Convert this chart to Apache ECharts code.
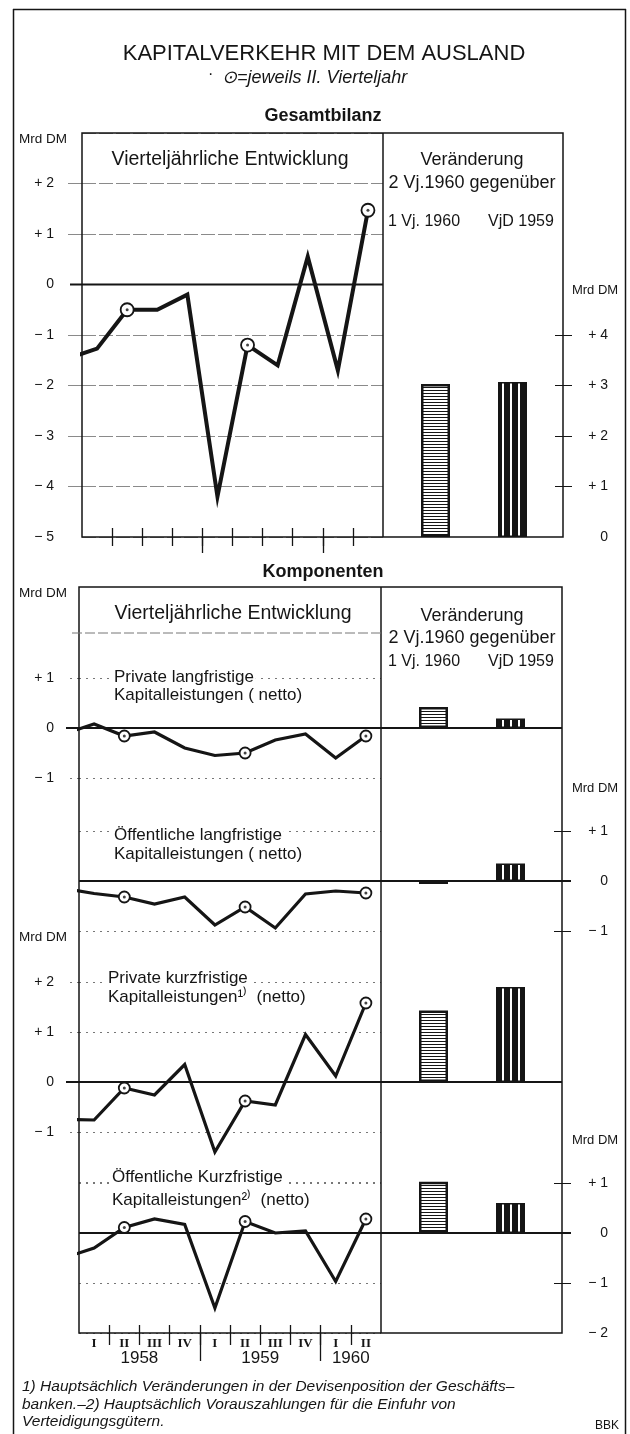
<!DOCTYPE html>
<html>
<head>
<meta charset="utf-8">
<script src="https://cdn.jsdelivr.net/npm/echarts@6/dist/echarts.min.js"></script>
<style>
html, body { margin: 0; background: #fff; }
#main { width: 630px; height: 1434px; }
</style>
</head>
<body>
<div id="main"></div>
<script>
// Quartale; 1957 IV speist nur den abgeschnittenen Anfang jeder Linie
var quarters = ['1957 IV', '1958 I', '1958 II', '1958 III', '1958 IV', '1959 I', '1959 II', '1959 III', '1959 IV', '1960 I', '1960 II'];
var quarterLabels = ['I', 'II', 'III', 'IV', 'I', 'II', 'III', 'IV', 'I', 'II'];
var years = ['1958', '1959', '1960'];
var yearQuarters = [4, 4, 2];
var barCategories = ['1 Vj. 1960', 'VjD 1959'];

// Vierteljährliche Entwicklung, Mrd DM
var gesamt     = [-1.47, -1.27, -0.5, -0.5, -0.2, -4.2, -1.2, -1.6, 0.55, -1.7, 1.47];
var privatLang = [-0.12, 0.08, -0.16, -0.08, -0.4, -0.55, -0.5, -0.24, -0.12, -0.6, -0.16];
var oeffLang   = [-0.15, -0.25, -0.32, -0.46, -0.32, -0.88, -0.52, -0.94, -0.26, -0.2, -0.24];
var privatKurz = [-0.75, -0.76, -0.12, -0.26, 0.35, -1.4, -0.38, -0.46, 0.95, 0.12, 1.58];
var oeffKurz   = [-0.5, -0.3, 0.11, 0.28, 0.17, -1.5, 0.23, 0, 0.04, -0.97, 0.28];

// Veränderung 2. Vj. 1960 gegenüber 1. Vj. 1960 / VjD 1959
var gesamtBars     = [3.03, 3.07];
var privatLangBars = [0.42, 0.19];
var oeffLangBars   = [-0.06, 0.35];
var privatKurzBars = [1.43, 1.9];
var oeffKurzBars   = [1.29, 0.6];

// Achsenbeschriftungen
var gesamtLeftLabels  = [-5, -4, -3, -2, -1, 0, 1, 2];
var gesamtRightLabels = [0, 1, 2, 3, 4];
var plLeftLabels  = [-1, 0, 1];
var olRightLabels = [-1, 0, 1];
var pkLeftLabels  = [-1, 0, 1, 2];
var okRightLabels = [-2, -1, 0, 1];

var FONT = '"Liberation Sans", Arial, sans-serif';
var INK = '#151515';
var gridTop = {color: '#8a8a8a', width: 1, type: [14, 3]};
var gridComp = {color: '#777', width: 1, type: [2, 5]};

// Muster für die Säulen
function patternCanvas(w, h, draw) {
    var c = document.createElement('canvas');
    c.width = w; c.height = h;
    draw(c.getContext('2d'), w, h);
    return c;
}
var hatchH = patternCanvas(4, 3, function (ctx, w, h) {
    ctx.fillStyle = '#fff'; ctx.fillRect(0, 0, w, h);
    ctx.fillStyle = INK; ctx.fillRect(0, 0, w, 1);
});
var stripeV = patternCanvas(8, 4, function (ctx, w, h) {
    ctx.fillStyle = INK; ctx.fillRect(0, 0, w, h);
    ctx.fillStyle = '#fff'; ctx.fillRect(6, 0, 2, h);
});
var barStyles = [
    {color: {image: hatchH, repeat: 'repeat'}, borderColor: INK, borderWidth: 2.5},
    {color: {image: stripeV, repeat: 'repeat'}, borderColor: INK, borderWidth: 1.5}
];

function signed(v) {
    if (v > 0) return '+ ' + v;
    if (v < 0) return '\u2212 ' + (-v);
    return '0';
}
function isSecondQuarter(q) { return q.split(' ')[1] === 'II'; }
function without0(arr) { return arr.filter(function (v) { return v !== 0; }); }

// Panels: Lage und Maßstab (px je Mrd DM)
var panels = [
    {values: gesamt, bars: gesamtBars, top: 133, unit: 50.5, min: -5, max: 3, barMin: 0,
     left: 82, mid: 383, right: 563, barLeft: 397, style: gridTop, lineWidth: 4, ring: 13,
     leftLabels: gesamtLeftLabels, leftTicks: without0(gesamtLeftLabels).filter(function (v) { return v > -5; }),
     rightLabels: gesamtRightLabels, rightTicks: without0(gesamtRightLabels), axis: 'top'},
    {values: privatLang, bars: privatLangBars, top: 678, unit: 50, min: -1, max: 1,
     left: 79, mid: 381, right: 562, barLeft: 395, style: gridComp, lineWidth: 3.2, ring: 11,
     leftLabels: plLeftLabels, leftTicks: without0(plLeftLabels)},
    {values: oeffLang, bars: oeffLangBars, top: 831, unit: 50, min: -1, max: 1,
     left: 79, mid: 381, right: 562, barLeft: 395, style: gridComp, lineWidth: 3.2, ring: 11,
     rightLabels: olRightLabels, rightTicks: without0(olRightLabels)},
    {values: privatKurz, bars: privatKurzBars, top: 982, unit: 50, min: -2, max: 2,
     left: 79, mid: 381, right: 562, barLeft: 395, style: gridComp, lineWidth: 3.2, ring: 11,
     leftLabels: pkLeftLabels, leftTicks: without0(pkLeftLabels)},
    {values: oeffKurz, bars: oeffKurzBars, top: 1183, unit: 50, min: -2, max: 1,
     left: 79, mid: 381, right: 562, barLeft: 395, style: gridComp, lineWidth: 3.2, ring: 11,
     rightLabels: okRightLabels, rightTicks: without0(okRightLabels).filter(function (v) { return v > -2; }), axis: 'bottom'}
];
var BAR_W = 154;

var boundaries = quarterLabels.slice(1).map(function (q, k) { return k + 1; });
var yearBounds = [], yearCenters = [], acc = 0;
yearQuarters.forEach(function (n, k) {
    yearCenters.push(acc + n / 2);
    acc += n;
    if (k < yearQuarters.length - 1) yearBounds.push(acc);
});

var grids = [], xAxes = [], yAxes = [], series = [], elements = [];

function tickAxis(gi, inside, len, values, label) {
    return {gridIndex: gi, type: 'value', min: 0, max: 10, interval: 1, position: 'bottom',
        axisLine: {show: false, onZero: false}, splitLine: {show: false},
        axisTick: {show: true, inside: inside, length: len, customValues: values,
            lineStyle: {color: INK, width: 1.3}},
        axisLabel: label || {show: false}};
}

panels.forEach(function (p) {
    var h = (p.max - p.min) * p.unit;
    var lg = grids.length;
    grids.push({left: p.left, top: p.top, width: p.mid - p.left, height: h});
    var bg = grids.length;
    grids.push({left: p.barLeft, top: p.top, width: BAR_W, height: h});

    // Liniengitter
    var xi = xAxes.length;
    xAxes.push({gridIndex: lg, type: 'value', min: 0, max: 10, interval: 1, show: false,
        axisLine: {onZero: false}});
    if (p.axis === 'top') {
        xAxes.push(tickAxis(lg, true, 9, boundaries));
        xAxes.push(tickAxis(lg, false, 9, boundaries));
        xAxes.push(tickAxis(lg, false, 16, yearBounds));
    }
    if (p.axis === 'bottom') {
        xAxes.push(tickAxis(lg, true, 8, boundaries, {
            show: true, customValues: quarterLabels.map(function (q, k) { return k + 0.5; }),
            formatter: function (v) { return quarterLabels[Math.floor(v)] || ''; },
            margin: 4, fontFamily: '"Liberation Serif", serif', fontWeight: 'bold', fontSize: 13, color: INK}));
        xAxes.push(tickAxis(lg, false, 12, boundaries));
        xAxes.push(tickAxis(lg, false, 28, yearBounds, {
            show: true, customValues: yearCenters,
            formatter: function (v) { var k = yearCenters.indexOf(v); return k < 0 ? '' : years[k]; },
            margin: 17, fontFamily: FONT, fontSize: 17, color: INK}));
    }
    var yi = yAxes.length;
    yAxes.push({gridIndex: lg, type: 'value', min: p.min, max: p.max, interval: 1, position: 'left',
        axisLine: {show: false, onZero: false}, axisTick: {show: false},
        axisLabel: {show: !!p.leftLabels, customValues: p.leftLabels,
            formatter: function (v) { return p.leftLabels && p.leftLabels.indexOf(v) >= 0 ? signed(v) : ''; },
            margin: p.left - 54, fontFamily: FONT, fontSize: 14, color: INK},
        splitLine: {show: true, lineStyle: p.style}});
    if (p.leftTicks) {
        yAxes.push({gridIndex: lg, type: 'value', min: p.min, max: p.max, interval: 1, position: 'left',
            axisLine: {show: false, onZero: false}, axisLabel: {show: false}, splitLine: {show: false},
            axisTick: {show: true, length: 14, customValues: p.leftTicks, lineStyle: p.style}});
    }

    var lineData = p.values.map(function (v, k) {
        var item = {value: [k - 0.5, v], symbol: 'none'};
        if (isSecondQuarter(quarters[k])) {
            item.symbol = 'circle';
            item.symbolSize = p.ring;
            item.itemStyle = {color: '#fff', borderColor: INK, borderWidth: 1.8};
        }
        return item;
    });
    series.push({type: 'line', xAxisIndex: xi, yAxisIndex: yi, data: lineData, clip: true,
        lineStyle: {color: INK, width: p.lineWidth, join: 'miter'}, itemStyle: {color: INK},
        showSymbol: true, silent: true, z: 4});
    series.push({type: 'scatter', xAxisIndex: xi, yAxisIndex: yi, symbolSize: 3, silent: true, z: 5,
        itemStyle: {color: INK},
        data: p.values.map(function (v, k) { return [k - 0.5, v]; })
            .filter(function (d, k) { return isSecondQuarter(quarters[k]); })});

    // Säulengitter
    var bxi = xAxes.length;
    xAxes.push({gridIndex: bg, type: 'category', data: barCategories, show: false,
        axisLine: {onZero: false}});
    var barMax = p.barMin === undefined ? p.max : p.barMin + (p.max - p.min);
    var barMin = p.barMin === undefined ? p.min : p.barMin;
    var off = p.right - (p.barLeft + BAR_W);
    var byi = yAxes.length;
    yAxes.push({gridIndex: bg, type: 'value', min: barMin, max: barMax, interval: 1, position: 'right', offset: off,
        axisLine: {show: false, onZero: false}, splitLine: {show: false},
        axisTick: {show: !!p.rightTicks, length: 9, customValues: p.rightTicks, lineStyle: {color: INK, width: 1}},
        axisLabel: {show: !!p.rightLabels, customValues: p.rightLabels, align: 'right',
            formatter: function (v) { return p.rightLabels && p.rightLabels.indexOf(v) >= 0 ? signed(v) : ''; },
            margin: 608 - p.right, fontFamily: FONT, fontSize: 14, color: INK}});
    if (p.rightTicks) {
        yAxes.push({gridIndex: bg, type: 'value', min: barMin, max: barMax, interval: 1, position: 'right', offset: off,
            axisLine: {show: false, onZero: false}, splitLine: {show: false}, axisLabel: {show: false},
            axisTick: {show: true, inside: true, length: 8, customValues: p.rightTicks, lineStyle: {color: INK, width: 1}}});
    }
    series.push({type: 'bar', xAxisIndex: bxi, yAxisIndex: byi, barWidth: 29, silent: true, z: 3,
        data: p.bars.map(function (v, k) { return {value: v, itemStyle: barStyles[k]}; })});

    // Nulllinie
    var y0 = p.top + p.max * p.unit;
    if (p.axis === 'top') {
        elements.push(hline(70, p.mid, y0, 2));
    } else {
        elements.push(hline(p.leftLabels ? 66 : p.left, p.rightLabels ? 571 : p.right, y0, 2));
    }
});

function hline(x1, x2, y, w, extra) {
    return {type: 'line', silent: true, z: 3,
        shape: {x1: x1, y1: y, x2: x2, y2: y},
        style: Object.assign({stroke: INK, lineWidth: w || 1.5}, extra || {})};
}
function vline(x, y1, y2, w) {
    return {type: 'line', silent: true, z: 3,
        shape: {x1: x, y1: y1, x2: x, y2: y2},
        style: {stroke: INK, lineWidth: w || 1.5}};
}
function txt(x, y, s, o) {
    o = o || {};
    return {type: 'text', x: x, y: y, silent: true, z: 6,
        style: {text: s, fill: INK, fontFamily: o.family || FONT, fontSize: o.size || 16,
            fontWeight: o.weight || 'normal', fontStyle: o.italic ? 'italic' : 'normal',
            align: o.align || 'left', textAlign: o.align || 'left',
            verticalAlign: 'middle', textVerticalAlign: 'middle',
            backgroundColor: o.bg, padding: o.bg ? [0, 2] : 0}};
}

// Rahmen
elements.push(vline(13.5, 9, 1434, 1.5));
elements.push(vline(625.5, 9, 1434, 1.5));
elements.push(hline(13, 626, 9.5, 1.5));

var topP = panels[0], botP = panels[4], firstC = panels[1];
var topBottom = topP.top + (topP.max - topP.min) * topP.unit;
elements.push({type: 'rect', silent: true, z: 3, shape: {x: topP.left, y: topP.top, width: topP.right - topP.left, height: topBottom - topP.top},
    style: {fill: null, stroke: INK, lineWidth: 1.5}});
elements.push(vline(topP.mid, topP.top, topBottom));
var compTop = 587, compBottom = botP.top + (botP.max - botP.min) * botP.unit;
elements.push({type: 'rect', silent: true, z: 3, shape: {x: firstC.left, y: compTop, width: firstC.right - firstC.left, height: compBottom - compTop},
    style: {fill: null, stroke: INK, lineWidth: 1.5}});
elements.push(vline(firstC.mid, compTop, compBottom));
elements.push(hline(72, firstC.mid, 633, 1, {stroke: '#777', lineDash: [10, 3]}));

// Texte
elements.push(txt(324, 54, 'KAPITALVERKEHR MIT DEM AUSLAND', {size: 22, align: 'center'}));
elements.push(txt(208, 75, '\u00b7', {size: 16}));
elements.push(txt(222, 78, '\u2299=jeweils II. Vierteljahr', {size: 18, italic: true}));
elements.push(txt(323, 116, 'Gesamtbilanz', {size: 18, weight: 'bold', align: 'center'}));
elements.push(txt(19, 139, 'Mrd DM', {size: 13.5}));
elements.push(txt(230, 160, 'Vierteljährliche Entwicklung', {size: 19.5, align: 'center'}));
elements.push(txt(472, 160, 'Veränderung', {size: 18, align: 'center'}));
elements.push(txt(472, 183, '2 Vj.1960 gegenüber', {size: 18, align: 'center'}));
elements.push(txt(424, 222, barCategories[0], {size: 16, align: 'center'}));
elements.push(txt(521, 222, barCategories[1], {size: 16, align: 'center'}));
elements.push(txt(595, 290, 'Mrd DM', {size: 13, align: 'center'}));

elements.push(txt(323, 572, 'Komponenten', {size: 18, weight: 'bold', align: 'center'}));
elements.push(txt(19, 593, 'Mrd DM', {size: 13.5}));
elements.push(txt(233, 614, 'Vierteljährliche Entwicklung', {size: 19.5, align: 'center'}));
elements.push(txt(472, 616, 'Veränderung', {size: 18, align: 'center'}));
elements.push(txt(472, 638, '2 Vj.1960 gegenüber', {size: 18, align: 'center'}));
elements.push(txt(424, 662, barCategories[0], {size: 16, align: 'center'}));
elements.push(txt(521, 662, barCategories[1], {size: 16, align: 'center'}));

elements.push(txt(112, 677, 'Private langfristige', {size: 17, bg: '#fff'}));
elements.push(txt(112, 695, 'Kapitalleistungen ( netto)', {size: 17, bg: '#fff'}));
elements.push(txt(112, 835, 'Öffentliche langfristige', {size: 17, bg: '#fff'}));
elements.push(txt(112, 854, 'Kapitalleistungen ( netto)', {size: 17, bg: '#fff'}));
elements.push(txt(595, 788, 'Mrd DM', {size: 13, align: 'center'}));
elements.push(txt(19, 937, 'Mrd DM', {size: 13.5}));
elements.push(txt(106, 978, 'Private kurzfristige', {size: 17, bg: '#fff'}));
elements.push(txt(106, 997, 'Kapitalleistungen\u00b9\u207e  (netto)', {size: 17, bg: '#fff'}));
elements.push(txt(595, 1140, 'Mrd DM', {size: 13, align: 'center'}));
elements.push(txt(110, 1177, 'Öffentliche Kurzfristige', {size: 17, bg: '#fff'}));
elements.push(txt(110, 1200, 'Kapitalleistungen\u00b2\u207e  (netto)', {size: 17, bg: '#fff'}));

elements.push(txt(22, 1387, '1) Hauptsächlich Veränderungen in der Devisenposition der Geschäfts\u2013', {size: 15.5, italic: true}));
elements.push(txt(22, 1405, 'banken.\u20132) Hauptsächlich Vorauszahlungen für die Einfuhr von', {size: 15.5, italic: true}));
elements.push(txt(22, 1422, 'Verteidigungsgütern.', {size: 15.5, italic: true}));
elements.push(txt(619, 1426, 'BBK', {size: 12, align: 'right'}));

var chart = echarts.init(document.getElementById('main'));
chart.setOption({
    animation: false,
    backgroundColor: '#fff',
    grid: grids,
    xAxis: xAxes,
    yAxis: yAxes,
    series: series,
    graphic: {elements: elements}
});
</script>
</body>
</html>
